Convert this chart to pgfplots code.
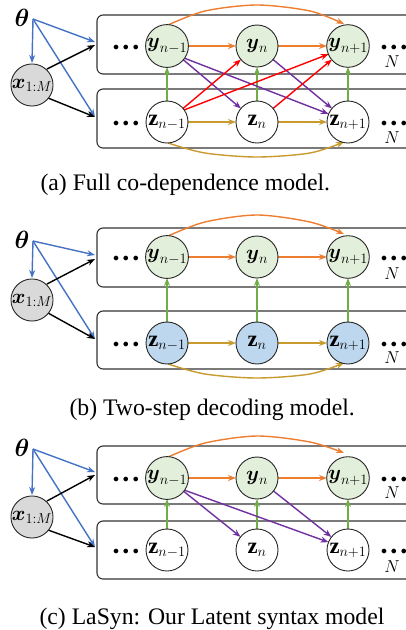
\documentclass[border=0pt]{standalone}
\usepackage{amsmath}
\usepackage{fontspec}
\setmainfont{Liberation Serif}
\usepackage{pgfplots}
\pgfplotsset{compat=1.18}
\usetikzlibrary{arrows.meta}
\definecolor{cgreen}{HTML}{E2EFDA}
\definecolor{cblue}{HTML}{BDD7EE}
\definecolor{cgrey}{HTML}{D9D9D9}
\definecolor{aBlue}{HTML}{4472C4}
\definecolor{aOrange}{HTML}{ED7D31}
\definecolor{aGold}{HTML}{C99A2E}
\definecolor{aGreen}{HTML}{70AD47}
\definecolor{aPurple}{HTML}{7030A0}
\definecolor{aRed}{HTML}{FF0000}
\tikzset{lab/.style={font=\fontsize{23}{23}\selectfont, inner sep=0pt},
  cn/.style={circle, draw=black!85, line width=0.9pt, minimum size=42pt, inner sep=0pt, font=\fontsize{22.5}{22.5}\selectfont},
  nlab/.style={font=\fontsize{19}{19}\selectfont, inner sep=0pt},
  dts/.style={font=\fontsize{13}{13}\selectfont, inner sep=0pt},
  captxt/.style={anchor=west, font=\fontsize{23.7}{24}\selectfont}}
\newcommand{\dd}{$\bullet\mkern2mu\bullet\mkern2mu\bullet$}
\begin{document}
\begin{tikzpicture}
\useasboundingbox (0,0) rectangle (406pt,630pt);
\clip (0,0) rectangle (406pt,630pt);
\begin{axis}[
  at={(0,0)}, anchor=south west,
  width=406pt, height=630pt, scale only axis,
  xmin=0, xmax=406, ymin=0, ymax=630, y dir=reverse,
  hide axis, clip=true,
  every axis plot/.append style={line width=1.4pt},
  arr/.style={-{Stealth[length=8pt,width=6pt]}},
  plate/.style={draw=black!80, line width=1.1pt, rounded corners=6pt},
  pt/.style={draw=none, mark=none},
]
% ---------------- plates ----------------
\addplot[plate] coordinates {(440,15)(97,15)(97,74)(440,74)};
\addplot[plate] coordinates {(440,89)(97,89)(97,148)(440,148)};
\addplot[plate] coordinates {(440,228)(97,228)(97,287)(440,287)};
\addplot[plate] coordinates {(440,311)(97,311)(97,369)(440,369)};
\addplot[plate] coordinates {(440,446)(97,446)(97,504)(440,504)};
\addplot[plate] coordinates {(440,521)(97,521)(97,579)(440,579)};

% ================= panel (a) =================
\addplot[arr, aBlue] coordinates {(33,19)(32,63)};
\addplot[arr, aBlue] coordinates {(33,19)(95,42)};
\addplot[arr, aBlue] coordinates {(33,19)(95,117)};
\addplot[arr, black] coordinates {(47,69)(95,45)};
\addplot[arr, black] coordinates {(48,98)(95,117)};
\addplot[arr, aOrange, smooth] coordinates {(168,25)(205,11)(257,5)(310,11)(344,24)};
\addplot[arr, aGold, smooth] coordinates {(168,143)(205,153)(257,157)(310,153)(344,142)};
\addplot[arr, aOrange] coordinates {(188,46)(236,46)};
\addplot[arr, aOrange] coordinates {(278,46)(327,46)};
\addplot[arr, aGold] coordinates {(188,122)(236,122)};
\addplot[arr, aGold] coordinates {(278,122)(327,122)};
\addplot[arr, aGreen] coordinates {(167,101)(167,67)};
\addplot[arr, aGreen] coordinates {(257,101)(257,67)};
\addplot[arr, aGreen] coordinates {(348,101)(348,67)};
\addplot[arr, aPurple] coordinates {(183,59.5)(241,108.5)};
\addplot[arr, aPurple] coordinates {(184,58)(328.6,113.9)};
\addplot[arr, aPurple] coordinates {(273,59.5)(332,108.5)};
\addplot[arr, aRed] coordinates {(183,108.5)(241,59.5)};
\addplot[arr, aRed] coordinates {(184,110)(328.6,54.1)};
\addplot[arr, aRed] coordinates {(273,108.5)(332,59.5)};
\addplot[pt] coordinates {(167,46)} node[cn, fill=cgreen] {$\boldsymbol{y}_{n-1}$};
\addplot[pt] coordinates {(257,46)} node[cn, fill=cgreen] {$\boldsymbol{y}_{n}$};
\addplot[pt] coordinates {(348,46)} node[cn, fill=cgreen] {$\boldsymbol{y}_{n+1}$};
\addplot[pt] coordinates {(167,122)} node[cn, fill=white] {$\mathbf{z}_{n-1}$};
\addplot[pt] coordinates {(257,122)} node[cn, fill=white] {$\mathbf{z}_{n}$};
\addplot[pt] coordinates {(348,122)} node[cn, fill=white] {$\mathbf{z}_{n+1}$};
\addplot[pt] coordinates {(32,85)} node[cn, fill=cgrey] {$\boldsymbol{x}_{1:M}$};

% ================= panel (b) =================
\addplot[arr, aBlue] coordinates {(33,241)(32,278)};
\addplot[arr, aBlue] coordinates {(33,241)(95,255)};
\addplot[arr, aBlue] coordinates {(33,241)(95,339)};
\addplot[arr, black] coordinates {(47,284)(95,259)};
\addplot[arr, black] coordinates {(48,313)(95,339)};
\addplot[arr, aOrange, smooth] coordinates {(168,236)(205,222)(257,215)(310,222)(344,234)};
\addplot[arr, aGold, smooth] coordinates {(168,364)(205,374)(257,378)(310,374)(344,363)};
\addplot[arr, aOrange] coordinates {(188,257)(236,257)};
\addplot[arr, aOrange] coordinates {(278,257)(327,257)};
\addplot[arr, aGold] coordinates {(188,343)(236,343)};
\addplot[arr, aGold] coordinates {(278,343)(327,343)};
\addplot[arr, aGreen] coordinates {(167,322)(167,278)};
\addplot[arr, aGreen] coordinates {(257,322)(257,278)};
\addplot[arr, aGreen] coordinates {(348,322)(348,278)};
\addplot[pt] coordinates {(167,257)} node[cn, fill=cgreen] {$\boldsymbol{y}_{n-1}$};
\addplot[pt] coordinates {(257,257)} node[cn, fill=cgreen] {$\boldsymbol{y}_{n}$};
\addplot[pt] coordinates {(348,257)} node[cn, fill=cgreen] {$\boldsymbol{y}_{n+1}$};
\addplot[pt] coordinates {(167,343)} node[cn, fill=cblue] {$\mathbf{z}_{n-1}$};
\addplot[pt] coordinates {(257,343)} node[cn, fill=cblue] {$\mathbf{z}_{n}$};
\addplot[pt] coordinates {(348,343)} node[cn, fill=cblue] {$\mathbf{z}_{n+1}$};
\addplot[pt] coordinates {(32,300)} node[cn, fill=cgrey] {$\boldsymbol{x}_{1:M}$};

% ================= panel (c) =================
\addplot[arr, aBlue] coordinates {(33,449)(32,495)};
\addplot[arr, aBlue] coordinates {(33,449)(95,472)};
\addplot[arr, aBlue] coordinates {(33,449)(95,547)};
\addplot[arr, black] coordinates {(47,501)(95,475)};
\addplot[arr, black] coordinates {(48,530)(95,547)};
\addplot[arr, aOrange, smooth] coordinates {(168,457)(205,443)(257,436)(310,442)(344,453)};
\addplot[arr, aOrange] coordinates {(188,478)(236,478)};
\addplot[arr, aOrange] coordinates {(278,478)(327,478)};
\addplot[arr, aGreen] coordinates {(167,529)(167,499)};
\addplot[arr, aGreen] coordinates {(257,529)(257,499)};
\addplot[arr, aGreen] coordinates {(348,529)(348,499)};
\addplot[arr, aPurple] coordinates {(183.4,491.1)(240.6,536.9)};
\addplot[arr, aPurple] coordinates {(184,490)(328.5,542.2)};
\addplot[arr, aPurple] coordinates {(273.5,491)(331.5,537)};
\addplot[pt] coordinates {(167,478)} node[cn, fill=cgreen] {$\boldsymbol{y}_{n-1}$};
\addplot[pt] coordinates {(257,478)} node[cn, fill=cgreen] {$\boldsymbol{y}_{n}$};
\addplot[pt] coordinates {(348,478)} node[cn, fill=cgreen] {$\boldsymbol{y}_{n+1}$};
\addplot[pt] coordinates {(167,550)} node[cn, fill=white] {$\mathbf{z}_{n-1}$};
\addplot[pt] coordinates {(257,550)} node[cn, fill=white] {$\mathbf{z}_{n}$};
\addplot[pt] coordinates {(348,550)} node[cn, fill=white] {$\mathbf{z}_{n+1}$};
\addplot[pt] coordinates {(32,517)} node[cn, fill=cgrey] {$\boldsymbol{x}_{1:M}$};

% ---------------- labels ----------------
\node[lab] at (axis cs:22,18) {$\boldsymbol{\theta}$};
\node[lab] at (axis cs:22,240) {$\boldsymbol{\theta}$};
\node[lab] at (axis cs:22,448) {$\boldsymbol{\theta}$};
\node[dts] at (axis cs:126,47.5) {\dd};
\node[dts] at (axis cs:126,123.5) {\dd};
\node[dts] at (axis cs:126,258.5) {\dd};
\node[dts] at (axis cs:126,344.5) {\dd};
\node[dts] at (axis cs:126,479.5) {\dd};
\node[dts] at (axis cs:126,551.5) {\dd};
\node[dts] at (axis cs:394,47.5) {\dd};
\node[dts] at (axis cs:394,123.5) {\dd};
\node[dts] at (axis cs:394,258.5) {\dd};
\node[dts] at (axis cs:394,344.5) {\dd};
\node[dts] at (axis cs:394,479.5) {\dd};
\node[dts] at (axis cs:394,551.5) {\dd};
\node[nlab] at (axis cs:392,62) {$N$};
\node[nlab] at (axis cs:392,138) {$N$};
\node[nlab] at (axis cs:392,274) {$N$};
\node[nlab] at (axis cs:392,358) {$N$};
\node[nlab] at (axis cs:392,493) {$N$};
\node[nlab] at (axis cs:392,567) {$N$};
\node[captxt] at (axis cs:37,185) {(a) Full co-dependence model.};
\node[captxt] at (axis cs:66,410) {(b) Two-step decoding model.};
\node[captxt] at (axis cs:36,619) {(c) LaSyn: Our Latent syntax model};
\end{axis}
\end{tikzpicture}
\end{document}
